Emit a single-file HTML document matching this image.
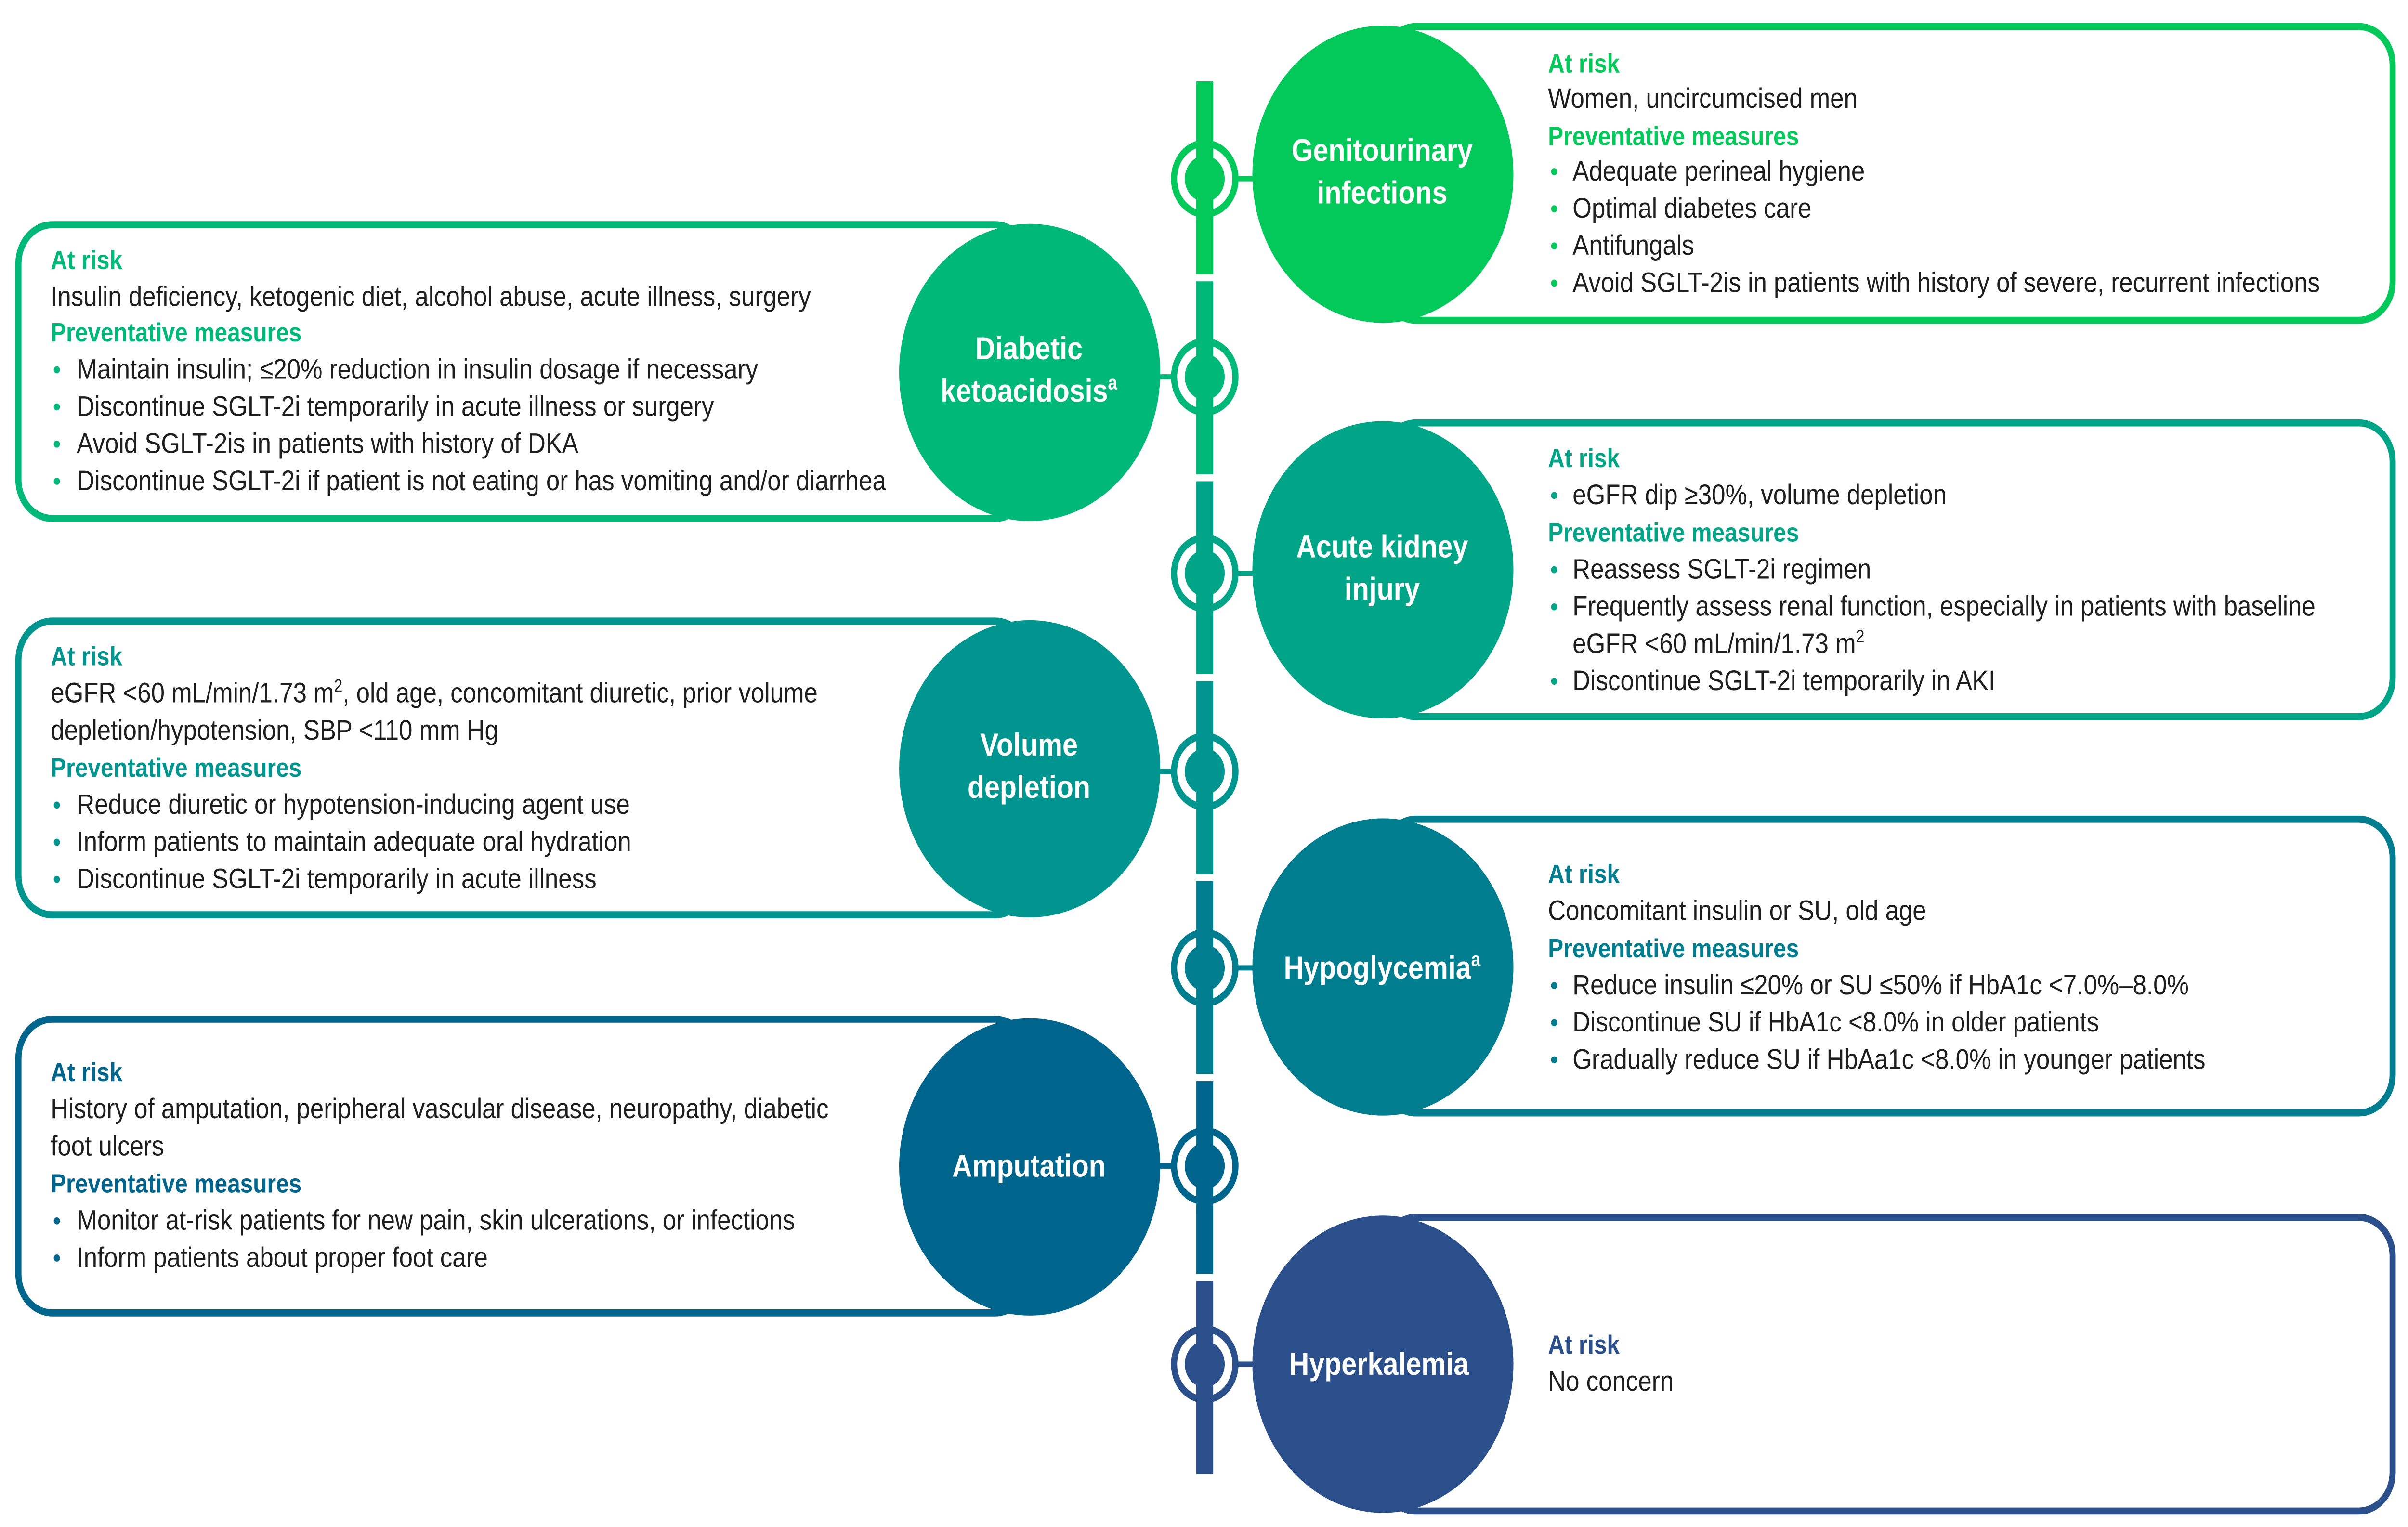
<!DOCTYPE html>
<html><head><meta charset="utf-8">
<style>
html,body{margin:0;padding:0;background:#fff;width:100%;height:100%;overflow:hidden;}
#s{position:fixed;left:0;top:0;width:100vw;height:100vh;display:block;}
text{font-family:"Liberation Sans",sans-serif;}
.t{font-size:16px;fill:#1e1e1e;}
.h{font-size:15px;font-weight:bold;}
.c{font-size:18px;font-weight:bold;fill:#fff;text-anchor:middle;}
</style></head><body>
<svg id="s" viewBox="0 0 1568 863" preserveAspectRatio="none" xmlns="http://www.w3.org/2000/svg">
<rect x="900" y="15" width="658" height="166" rx="22" fill="#fff" stroke="#03c85a" stroke-width="4"/>
<rect x="12" y="127" width="658" height="166" rx="22" fill="#fff" stroke="#00b877" stroke-width="4"/>
<rect x="900" y="239" width="658" height="166" rx="22" fill="#fff" stroke="#00a487" stroke-width="4"/>
<rect x="12" y="351" width="658" height="166" rx="22" fill="#fff" stroke="#00958f" stroke-width="4"/>
<rect x="900" y="463" width="658" height="166" rx="22" fill="#fff" stroke="#007d8f" stroke-width="4"/>
<rect x="12" y="576" width="658" height="166" rx="22" fill="#fff" stroke="#00658c" stroke-width="4"/>
<rect x="900" y="688" width="658" height="166" rx="22" fill="#fff" stroke="#2b4f8b" stroke-width="4"/>

<rect x="779" y="46" width="11" height="109" fill="#03c85a"/>
<rect x="779" y="159" width="11" height="109" fill="#00b877"/>
<rect x="779" y="272" width="11" height="109" fill="#00a487"/>
<rect x="779" y="385" width="11" height="109" fill="#00958f"/>
<rect x="779" y="498" width="11" height="109" fill="#007d8f"/>
<rect x="779" y="611" width="11" height="109" fill="#00658c"/>
<rect x="779" y="724" width="11" height="109" fill="#2b4f8b"/>

<g fill="none" stroke-width="4">
<circle cx="784.5" cy="101" r="20" stroke="#03c85a"/>
<circle cx="784.5" cy="213" r="20" stroke="#00b877"/>
<circle cx="784.5" cy="324" r="20" stroke="#00a487"/>
<circle cx="784.5" cy="436" r="20" stroke="#00958f"/>
<circle cx="784.5" cy="547" r="20" stroke="#007d8f"/>
<circle cx="784.5" cy="659" r="20" stroke="#00658c"/>
<circle cx="784.5" cy="771" r="20" stroke="#2b4f8b"/>
</g>
<g>
<circle cx="784.5" cy="101" r="13" fill="#03c85a"/><rect x="804" y="99.5" width="14" height="3" fill="#03c85a"/>
<circle cx="784.5" cy="213" r="13" fill="#00b877"/><rect x="752" y="211.5" width="14" height="3" fill="#00b877"/>
<circle cx="784.5" cy="324" r="13" fill="#00a487"/><rect x="804" y="322.5" width="14" height="3" fill="#00a487"/>
<circle cx="784.5" cy="436" r="13" fill="#00958f"/><rect x="752" y="434.5" width="14" height="3" fill="#00958f"/>
<circle cx="784.5" cy="547" r="13" fill="#007d8f"/><rect x="804" y="545.5" width="14" height="3" fill="#007d8f"/>
<circle cx="784.5" cy="659" r="13" fill="#00658c"/><rect x="752" y="657.5" width="14" height="3" fill="#00658c"/>
<circle cx="784.5" cy="771" r="13" fill="#2b4f8b"/><rect x="804" y="769.5" width="14" height="3" fill="#2b4f8b"/>
</g>

<ellipse cx="900.5" cy="98.5" rx="85" ry="84" fill="#03c85a"/>
<ellipse cx="670.5" cy="210.5" rx="85" ry="84" fill="#00b877"/>
<ellipse cx="900.5" cy="322" rx="85" ry="84" fill="#00a487"/>
<ellipse cx="670.5" cy="434.5" rx="85" ry="84" fill="#00958f"/>
<ellipse cx="900.5" cy="546.5" rx="85" ry="84" fill="#007d8f"/>
<ellipse cx="670.5" cy="659.5" rx="85" ry="84" fill="#00658c"/>
<ellipse cx="900.5" cy="771" rx="85" ry="84" fill="#2b4f8b"/>

<text class="c" x="900" y="91">Genitourinary</text>
<text class="c" x="900" y="115">infections</text>
<text class="c" x="670" y="203">Diabetic</text>
<text class="c" x="670" y="227">ketoacidosis<tspan font-size="11" dy="-7">a</tspan></text>
<text class="c" x="900" y="315">Acute kidney</text>
<text class="c" x="900" y="339">injury</text>
<text class="c" x="670" y="427">Volume</text>
<text class="c" x="670" y="451">depletion</text>
<text class="c" x="900" y="553">Hypoglycemia<tspan font-size="11" dy="-7">a</tspan></text>
<text class="c" x="670" y="665">Amputation</text>
<text class="c" x="898" y="777">Hyperkalemia</text>

<g fill="#03c85a">
<text class="h" x="1008" y="41" fill="#03c85a">At risk</text>
<text class="h" x="1008" y="82" fill="#03c85a">Preventative measures</text>
<circle cx="1012" cy="97" r="2"/><circle cx="1012" cy="118" r="2"/><circle cx="1012" cy="139" r="2"/><circle cx="1012" cy="160" r="2"/>
</g>
<text class="t" x="1008" y="61">Women, uncircumcised men</text>
<text class="t" x="1024" y="102">Adequate perineal hygiene</text>
<text class="t" x="1024" y="123">Optimal diabetes care</text>
<text class="t" x="1024" y="144">Antifungals</text>
<text class="t" x="1024" y="165">Avoid SGLT-2is in patients with history of severe, recurrent infections</text>

<g fill="#00b877">
<text class="h" x="33" y="152" fill="#00b877">At risk</text>
<text class="h" x="33" y="193" fill="#00b877">Preventative measures</text>
<circle cx="37" cy="209" r="2"/><circle cx="37" cy="230" r="2"/><circle cx="37" cy="251" r="2"/><circle cx="37" cy="272" r="2"/>
</g>
<text class="t" x="33" y="173">Insulin deficiency, ketogenic diet, alcohol abuse, acute illness, surgery</text>
<text class="t" x="50" y="214">Maintain insulin; ≤20% reduction in insulin dosage if necessary</text>
<text class="t" x="50" y="235">Discontinue SGLT-2i temporarily in acute illness or surgery</text>
<text class="t" x="50" y="256">Avoid SGLT-2is in patients with history of DKA</text>
<text class="t" x="50" y="277">Discontinue SGLT-2i if patient is not eating or has vomiting and/or diarrhea</text>

<g fill="#00a487">
<text class="h" x="1008" y="264" fill="#00a487">At risk</text>
<text class="h" x="1008" y="306" fill="#00a487">Preventative measures</text>
<circle cx="1012" cy="280" r="2"/><circle cx="1012" cy="322" r="2"/><circle cx="1012" cy="343" r="2"/><circle cx="1012" cy="385" r="2"/>
</g>
<text class="t" x="1024" y="285">eGFR dip ≥30%, volume depletion</text>
<text class="t" x="1024" y="327">Reassess SGLT-2i regimen</text>
<text class="t" x="1024" y="348">Frequently assess renal function, especially in patients with baseline</text>
<text class="t" x="1024" y="369">eGFR &lt;60 mL/min/1.73 m<tspan font-size="10" dy="-6">2</tspan></text>
<text class="t" x="1024" y="390">Discontinue SGLT-2i temporarily in AKI</text>

<g fill="#00958f">
<text class="h" x="33" y="376" fill="#00958f">At risk</text>
<text class="h" x="33" y="439" fill="#00958f">Preventative measures</text>
<circle cx="37" cy="455" r="2"/><circle cx="37" cy="476" r="2"/><circle cx="37" cy="497" r="2"/>
</g>
<text class="t" x="33" y="397">eGFR &lt;60 mL/min/1.73 m<tspan font-size="10" dy="-6">2</tspan><tspan dy="6">, old age, concomitant diuretic, prior volume</tspan></text>
<text class="t" x="33" y="418">depletion/hypotension, SBP &lt;110 mm Hg</text>
<text class="t" x="50" y="460">Reduce diuretic or hypotension-inducing agent use</text>
<text class="t" x="50" y="481">Inform patients to maintain adequate oral hydration</text>
<text class="t" x="50" y="502">Discontinue SGLT-2i temporarily in acute illness</text>

<g fill="#007d8f">
<text class="h" x="1008" y="499" fill="#007d8f">At risk</text>
<text class="h" x="1008" y="541" fill="#007d8f">Preventative measures</text>
<circle cx="1012" cy="557" r="2"/><circle cx="1012" cy="578" r="2"/><circle cx="1012" cy="599" r="2"/>
</g>
<text class="t" x="1008" y="520">Concomitant insulin or SU, old age</text>
<text class="t" x="1024" y="562">Reduce insulin ≤20% or SU ≤50% if HbA1c &lt;7.0%–8.0%</text>
<text class="t" x="1024" y="583">Discontinue SU if HbA1c &lt;8.0% in older patients</text>
<text class="t" x="1024" y="604">Gradually reduce SU if HbAa1c &lt;8.0% in younger patients</text>

<g fill="#00658c">
<text class="h" x="33" y="611" fill="#00658c">At risk</text>
<text class="h" x="33" y="674" fill="#00658c">Preventative measures</text>
<circle cx="37" cy="690" r="2"/><circle cx="37" cy="711" r="2"/>
</g>
<text class="t" x="33" y="632">History of amputation, peripheral vascular disease, neuropathy, diabetic</text>
<text class="t" x="33" y="653">foot ulcers</text>
<text class="t" x="50" y="695">Monitor at-risk patients for new pain, skin ulcerations, or infections</text>
<text class="t" x="50" y="716">Inform patients about proper foot care</text>

<text class="h" x="1008" y="765" fill="#2b4f8b">At risk</text>
<text class="t" x="1008" y="786">No concern</text>
</svg>
</body></html>
